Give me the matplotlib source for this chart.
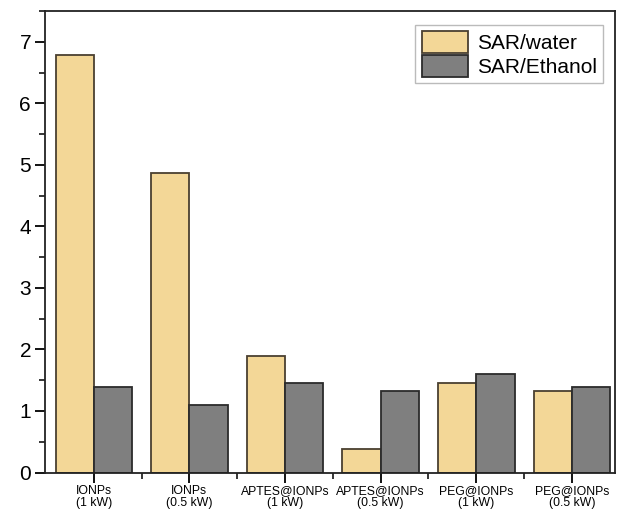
import matplotlib
matplotlib.use("Agg")
import matplotlib.pyplot as plt
import numpy as np
from matplotlib.ticker import MultipleLocator, FixedLocator

plt.rcParams['font.family'] = ['Liberation Sans', 'DejaVu Sans']

categories = ["IONPs\n(1 kW)", "IONPs\n(0.5 kW)", "APTES@IONPs\n(1 kW)",
              "APTES@IONPs\n(0.5 kW)", "PEG@IONPs\n(1 kW)", "PEG@IONPs\n(0.5 kW)"]
sar_water = [6.79, 4.87, 1.90, 0.38, 1.46, 1.32]
sar_ethanol = [1.39, 1.10, 1.45, 1.33, 1.60, 1.39]
series_labels = ["SAR/water", "SAR/Ethanol"]

fig = plt.figure(figsize=(6.19, 5.09), dpi=100)
ax = fig.add_axes([0.0727, 0.0717, 0.9208, 0.9063])

x = np.arange(len(categories))
w = 0.4
ax.bar(x - w / 2, sar_water, width=w, color="#F3D797", edgecolor="#4a4030",
       linewidth=1.3, label=series_labels[0])
ax.bar(x + w / 2, sar_ethanol, width=w, color="#7F7F7F", edgecolor="#2b2b2b",
       linewidth=1.3, label=series_labels[1])

ax.set_xlim(-0.51, 5.45)
ax.set_ylim(0, 7.5)
ax.set_xticks(x)
ax.set_xticklabels(categories, fontsize=8.8, linespacing=1.0)
ax.xaxis.set_minor_locator(FixedLocator(x[:-1] + 0.5))
ax.yaxis.set_major_locator(MultipleLocator(1))
ax.yaxis.set_minor_locator(MultipleLocator(0.5))
ax.tick_params(axis='y', which='major', labelsize=15, length=7, width=1.3, pad=3)
ax.tick_params(axis='y', which='minor', length=4, width=1.1)
ax.tick_params(axis='x', which='major', length=7, width=1.3, pad=2)
ax.tick_params(axis='x', which='minor', length=4, width=1.1)
for s in ax.spines.values():
    s.set_linewidth(1.3)
    s.set_color("#222222")

leg = ax.legend(loc="upper right", bbox_to_anchor=(0.979, 0.970),
                borderaxespad=0, fontsize=15, handlelength=2.25,
                handleheight=1.25, labelspacing=0.08, handletextpad=0.4,
                borderpad=0.3, fancybox=False, framealpha=1)
leg.get_frame().set_edgecolor("#bbbbbb")
leg.get_frame().set_linewidth(1.0)

fig.savefig("out.png", dpi=100)
